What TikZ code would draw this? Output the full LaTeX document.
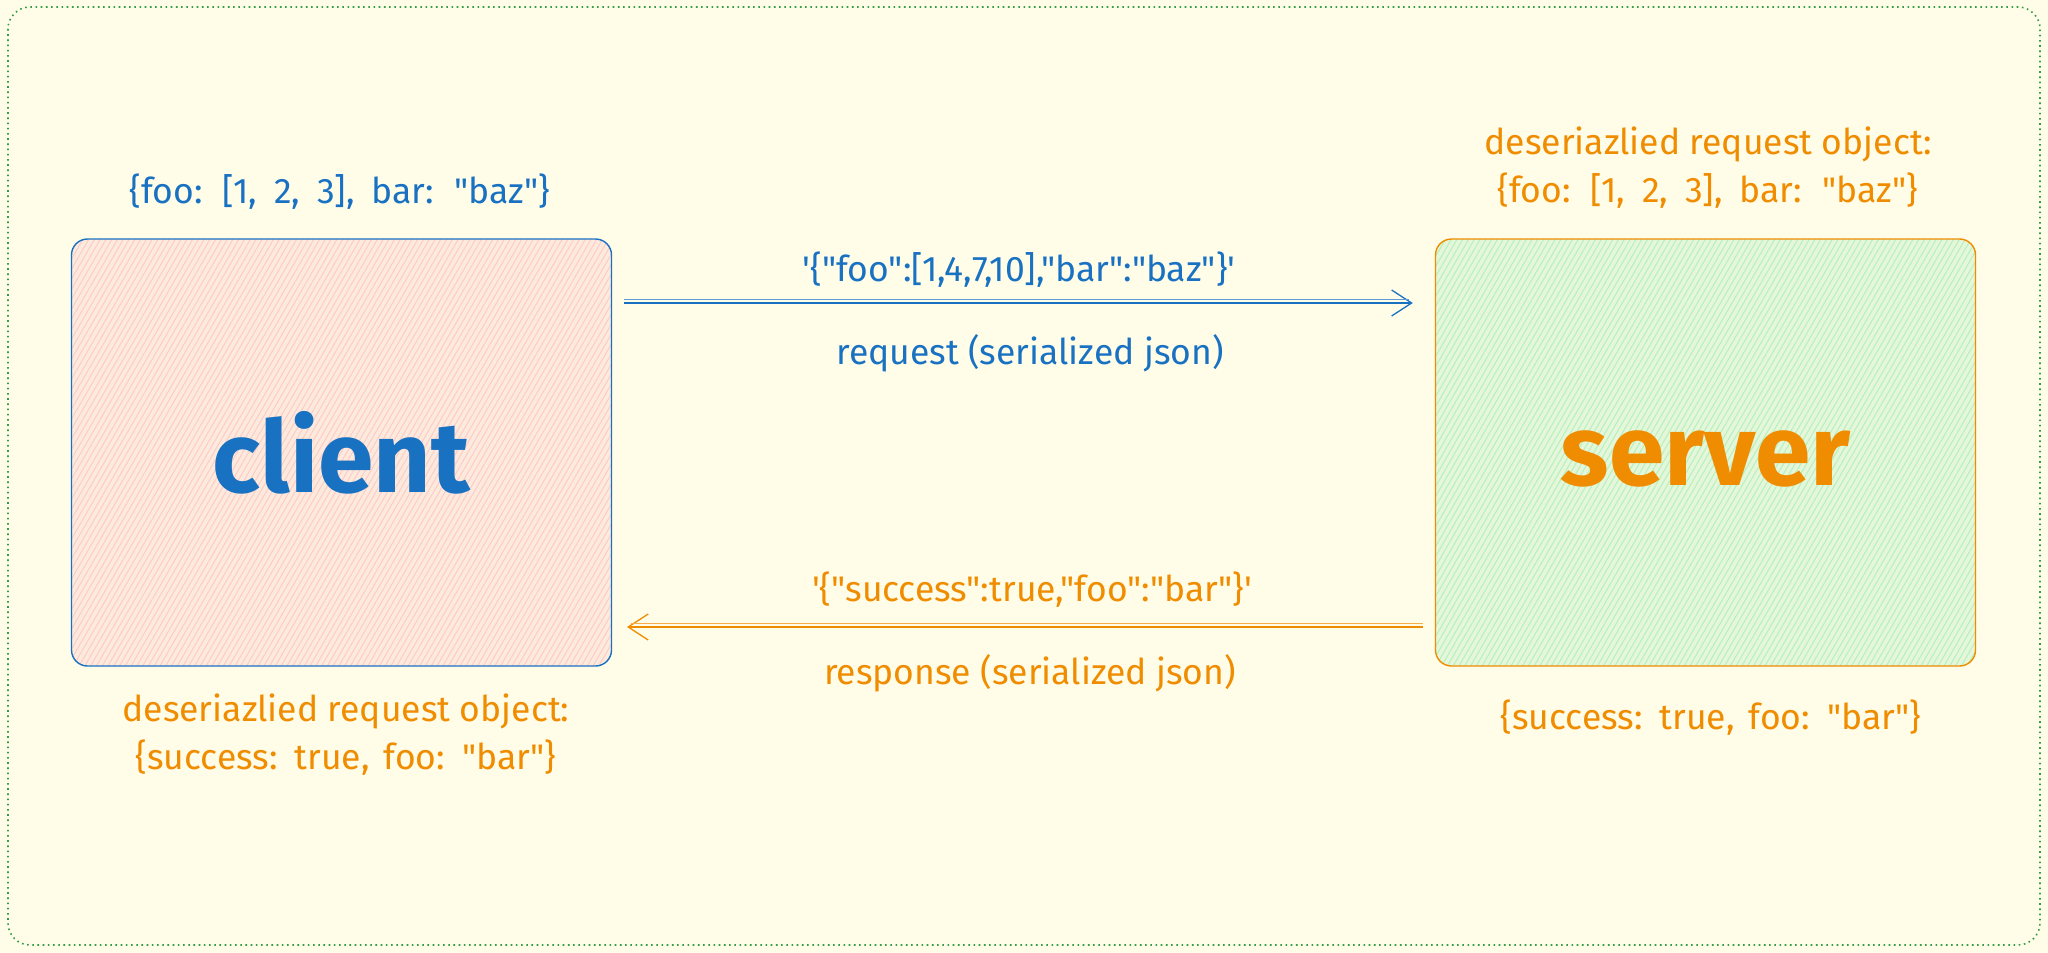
\documentclass[tikz,border=0pt]{standalone}
\usepackage{fontspec}
\newfontfamily\hand{Fira Sans}
\usetikzlibrary{arrows.meta,patterns.meta}
\definecolor{bg}{HTML}{FFFCE8}
\definecolor{eblue}{HTML}{1971C2}
\definecolor{eorange}{HTML}{F08C00}
\definecolor{egreen}{HTML}{2F9E44}
\definecolor{pinkfill}{HTML}{FCEBDD}
\definecolor{pinkline}{HTML}{FFC9C9}
\definecolor{greenfill}{HTML}{E6F6DA}
\definecolor{greenline}{HTML}{B2F2BB}
\newcommand{\sq}{\char39\relax}
\newcommand{\ws}{\spaceskip=17pt\relax}
\begin{document}
\begin{tikzpicture}[x=1pt,y=-1pt,
  box/.style={line width=1.4pt, rounded corners=16pt, minimum width=540pt, minimum height=427pt, inner sep=0pt},
  lbl/.style={font=\hand\fontsize{35.5}{48}\selectfont, inner sep=0pt, align=center},
  big/.style={font=\hand\bfseries\fontsize{100}{120}\selectfont},
  conn/.style={line width=1.3pt, -{Straight Barb[length=20pt,width=26pt,line width=1.3pt]}},
  twin/.style={line width=1pt}]
\useasboundingbox (0,0) rectangle (2048,953);
\fill[bg] (0,0) rectangle (2048,953);
\draw[egreen, line width=1.6pt, dash pattern=on 1.6pt off 3.6pt, rounded corners=22pt] (8,7) rectangle (2040,945);

% boxes
\node[box, draw=eblue, preaction={fill=pinkfill}, pattern={Lines[angle=60,distance=5pt,line width=1pt]}, pattern color=pinkline] (client) at (341.5,452.5) {};
\node[box, draw=eorange, preaction={fill=greenfill}, pattern={Lines[angle=60,distance=5pt,line width=1pt]}, pattern color=greenline] (server) at (1705.5,452.5) {};
\node[big, text=eblue] (clientlbl) at (client.center) {client};
\node[big, text=eorange] (serverlbl) at ([yshift=-6pt]server.center) {server};

% request arrow
\draw[conn, eblue] ([xshift=12pt,yshift=149.5pt]client.east) -- ([xshift=-22pt,yshift=149.5pt]server.west);
\draw[twin, eblue!70] ([xshift=12pt,yshift=153pt]client.east) -- ([xshift=-26pt,yshift=153pt]server.west);

% response arrow
\draw[conn, eorange] ([xshift=-12pt,yshift=-174.5pt]server.west) -- ([xshift=15pt,yshift=-174.5pt]client.east);
\draw[twin, eorange!70] ([xshift=-12pt,yshift=-171pt]server.west) -- ([xshift=19pt,yshift=-171pt]client.east);

% labels
\node[lbl, text=eblue] (cobj) at (340,192) {\ws\{foo: [1, 2, 3], bar: "baz"\}};
\node[lbl, text=eblue] (reqjson) at (1019,270) {\sq\{"foo":[1,4,7,10],"bar":"baz"\}\sq};
\node[lbl, text=eblue] (reqlbl) at (1030,353) {request (serialized json)};
\node[lbl, text=eorange] (sobj) at (1708,168) {deseriazlied request object:\\{\ws\{foo: [1, 2, 3], bar: "baz"\}}};
\node[lbl, text=eorange] (resjson) at (1032,590) {\sq\{"success":true,"foo":"bar"\}\sq};
\node[lbl, text=eorange] (reslbl) at (1030,673) {response (serialized json)};
\node[lbl, text=eorange] (cres) at (346,735) {deseriazlied request object:\\{\spaceskip=14pt\relax\{success: true, foo: "bar"\}}};
\node[lbl, text=eorange] (sres) at (1711,718) {\spaceskip=14pt\relax\{success: true, foo: "bar"\}};
\end{tikzpicture}
\end{document}
